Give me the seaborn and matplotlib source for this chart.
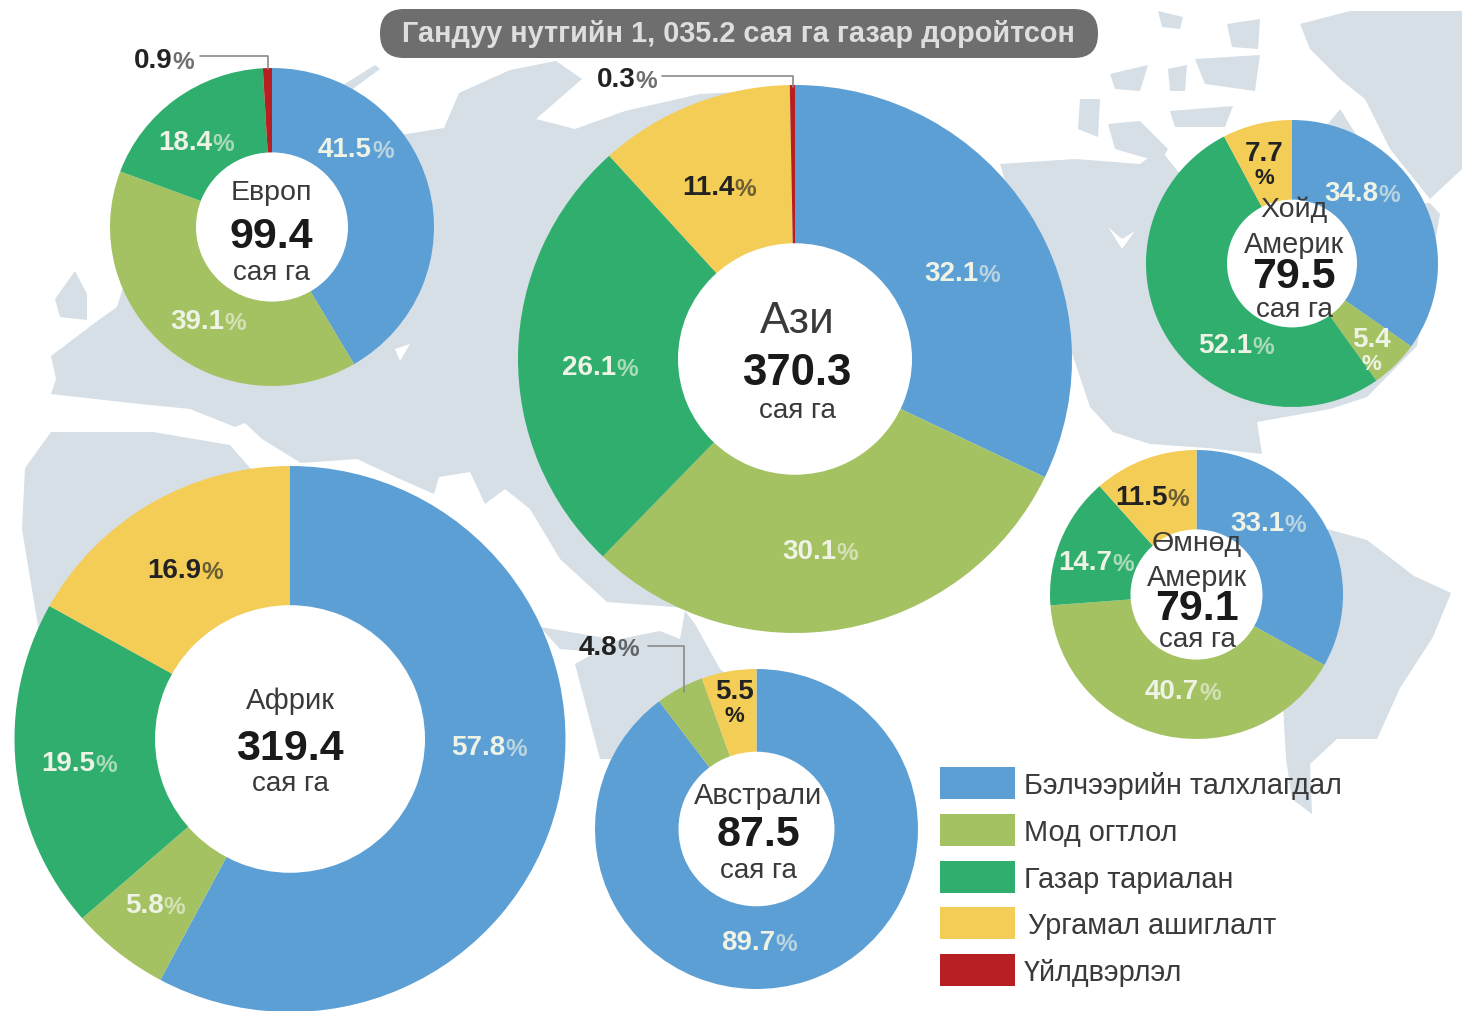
import matplotlib
matplotlib.use("Agg")
import matplotlib.pyplot as plt
from matplotlib.patches import FancyBboxPatch, Polygon, Rectangle
import seaborn as sns

sns.set_theme(style="white")
plt.rcParams["font.family"] = ["Liberation Sans", "DejaVu Sans"]

categories = ["Бэлчээрийн талхлагдал", "Мод огтлол", "Газар тариалан", "Ургамал ашиглалт", "Үйлдвэрлэл"]
title_text = "Гандуу нутгийн 1, 035.2 сая га газар доройтсон"
colors = sns.color_palette(["#5C9FD5", "#A4C262", "#2FAE6E", "#F4CD56", "#B81F22"])

europe = [41.5, 39.1, 18.4, 0.0, 0.9]
asia = [32.1, 30.1, 26.1, 11.4, 0.3]
north_america = [34.8, 5.4, 52.1, 7.7, 0.0]
south_america = [33.1, 40.7, 14.7, 11.5, 0.0]
africa = [57.8, 5.8, 19.5, 16.9, 0.0]
australia = [89.7, 4.8, 0.0, 5.5, 0.0]

W, H = 1466, 1012
MAP = "#D6DEE6"
fig = plt.figure(figsize=(W / 100, H / 100), dpi=100, facecolor="white")

bg = fig.add_axes([0, 0, 1, 1], zorder=0)
bg.set_xlim(0, W); bg.set_ylim(H, 0); bg.axis("off")
land = [
    # Eurasia
    [(413, 134), (444, 129), (459, 94), (510, 71), (556, 62), (582, 80), (536, 120), (575, 130), (625, 112),
     (700, 95), (800, 90), (900, 130), (900, 500), (700, 610), (607, 603), (560, 560), (530, 510), (505, 490),
     (485, 505), (470, 473), (439, 478), (434, 495), (400, 480), (357, 460), (301, 464), (262, 440), (245, 424),
     (235, 428), (190, 410), (140, 405), (51, 395), (56, 380), (51, 357), (100, 320), (117, 308), (135, 250), (300, 150)],
    # UK
    [(55, 300), (75, 272), (87, 295), (87, 321), (60, 318)],
    # Novaya Zemlya
    [(340, 88), (375, 66), (380, 70), (350, 92)],
    # Africa
    [(25, 469), (51, 433), (153, 433), (230, 446), (250, 469), (280, 480), (300, 700), (50, 700), (22, 530)],
    # Islands
    [(540, 628), (600, 638), (622, 655), (560, 650)],
    # Australia
    [(575, 665), (620, 640), (660, 632), (680, 640), (685, 612), (695, 625), (720, 670), (745, 690), (700, 760), (600, 760)],
    # North America
    [(1000, 165), (1075, 160), (1140, 165), (1160, 150), (1180, 175), (1240, 150), (1300, 160), (1340, 110),
     (1400, 205), (1430, 204), (1440, 215), (1417, 347), (1367, 398), (1330, 410), (1257, 423), (1262, 455),
     (1207, 449), (1150, 445), (1113, 433), (1090, 408), (1073, 357), (1040, 300)],
    # Greenland
    [(1300, 25), (1350, 12), (1462, 12), (1462, 170), (1430, 200), (1390, 150), (1365, 100), (1340, 80), (1310, 50)],
    # Arctic islands
    [(1080, 100), (1100, 100), (1098, 138), (1078, 130)],
    [(1108, 125), (1140, 122), (1168, 150), (1160, 163), (1115, 150)],
    [(1170, 112), (1233, 107), (1225, 128), (1175, 128)],
    [(1110, 75), (1148, 66), (1140, 92), (1115, 90)],
    [(1168, 70), (1187, 66), (1185, 92), (1170, 92)],
    [(1195, 60), (1260, 56), (1255, 92), (1205, 85)],
    [(1158, 12), (1183, 18), (1180, 30), (1162, 28)],
    [(1227, 25), (1260, 20), (1258, 50), (1232, 48)],
    # South America
    [(1300, 520), (1327, 530), (1367, 541), (1414, 577), (1451, 594), (1433, 638), (1400, 689), (1377, 740),
     (1337, 740), (1310, 765), (1312, 815), (1292, 800), (1286, 760), (1280, 650)],
]
for poly in land:
    bg.add_patch(Polygon(poly, closed=True, facecolor=MAP, edgecolor="none"))
bg.add_patch(Polygon([(1108, 228), (1122, 240), (1135, 232), (1122, 250)], closed=True, facecolor="white", edgecolor="none"))
bg.add_patch(Polygon([(395, 350), (410, 345), (400, 362)], closed=True, facecolor="white", edgecolor="none"))

def donut(values, cx, cy, Rx, Ry, r):
    ax = fig.add_axes([(cx - Rx) / W, 1 - (cy + Ry) / H, 2 * Rx / W, 2 * Ry / H], zorder=1)
    ax.pie(values, colors=colors, startangle=90, counterclock=False, radius=1,
           wedgeprops={"linewidth": 0})
    ax.pie([1], colors=["white"], radius=r / Rx, wedgeprops={"linewidth": 0})
    ax.set_xlim(-1, 1); ax.set_ylim(-1, 1); ax.set_aspect("auto"); ax.axis("off")

donut(europe, 272, 228, 162, 159, 76)
donut(asia, 795, 360, 277, 274, 117)
donut(north_america, 1292, 264.5, 146, 143.5, 65)
donut(south_america, 1196.5, 595.5, 146.5, 144.5, 66)
donut(africa, 290, 740, 275.5, 273, 135)
donut(australia, 756.5, 830, 161.5, 160, 78)

ov = fig.add_axes([0, 0, 1, 1], zorder=2)
ov.set_xlim(0, W); ov.set_ylim(H, 0); ov.axis("off"); ov.patch.set_alpha(0)

ov.add_patch(FancyBboxPatch((380, 10), 718, 49, boxstyle="round,pad=0,rounding_size=24",
                            facecolor="#6E6E6E", edgecolor="none"))
ov.text(738, 34, title_text, ha="center", va="center", color="#DEDEDE", fontsize=20.8, fontweight="bold")

LIGHT = "#EEF3E6"
DARK = "#222222"

def pct(x, y, val, color=LIGHT, fs=20):
    t = ov.text(x, y + 2, val, ha="left", va="center", color=color, fontsize=fs, fontweight="bold")
    ov.annotate("%", xy=(1, 0), xycoords=t, ha="left", va="bottom", color=color, alpha=0.65,
                fontsize=fs * 0.88, fontweight="bold")

pct(318, 148, "41.5"); pct(170, 320, "39.1"); pct(158, 141, "18.4")
pct(134, 59, "0.9", DARK)
pct(924, 272, "32.1"); pct(782, 550, "30.1"); pct(562, 366, "26.1")
pct(682, 186, "11.4", DARK); pct(597, 78, "0.3", DARK)
pct(1324, 192, "34.8"); pct(1198, 344, "52.1")
pct(1230, 522, "33.1"); pct(1145, 690, "40.7"); pct(1058, 561, "14.7")
pct(1115, 496, "11.5", DARK)
pct(451, 746, "57.8"); pct(125, 904, "5.8"); pct(41, 762, "19.5"); pct(147, 569, "16.9", DARK)
pct(721, 941, "89.7"); pct(579, 646, "4.8", DARK)

for x, y, s, c in [(1264, 154, "7.7", DARK), (1264, 178, "%", DARK),
                   (1371, 340, "5.4", LIGHT), (1371, 364, "%", LIGHT),
                   (734, 692, "5.5", DARK), (734, 717, "%", DARK)]:
    ov.text(x, y, s, ha="center", va="center", color=c, fontweight="bold",
            fontsize=20 if s != "%" else 16)

def center(x, lines):
    for y, s, fs, w in lines:
        ov.text(x, y + 3, s, ha="center", va="center", fontsize=fs, fontweight=w,
                color="#1A1A1A" if w == "bold" else "#3A3A3A")

center(271, [(190, "Европ", 20.5, "normal"), (234, "99.4", 31, "bold"), (270, "сая га", 20, "normal")])
center(797, [(318, "Ази", 32, "normal"), (370, "370.3", 31.5, "bold"), (408, "сая га", 20, "normal")])
center(1294, [(207, "Хойд", 20.5, "normal"), (242, "Америк", 20.8, "normal"), (274, "79.5", 31, "bold"), (307, "сая га", 20, "normal")])
center(1197, [(541, "Өмнөд", 20.5, "normal"), (575, "Америк", 20.8, "normal"), (606, "79.1", 31, "bold"), (637, "сая га", 20, "normal")])
center(290, [(698, "Африк", 21, "normal"), (746, "319.4", 31, "bold"), (781, "сая га", 20, "normal")])
center(758, [(793, "Австрали", 21, "normal"), (832, "87.5", 31, "bold"), (868, "сая га", 20, "normal")])

for xs, ys in [([200, 268, 268], [57, 57, 70]), ([662, 793, 793], [77, 77, 88]), ([648, 684, 684], [647, 647, 693])]:
    ov.plot(xs, ys, color="#8A8A8A", lw=1.2)

swatch_y = [768, 815, 862, 908, 955]
label_x = [1024, 1024, 1024, 1028, 1024]
for y, c, lab, lx in zip(swatch_y, colors, categories, label_x):
    ov.add_patch(Rectangle((940, y), 75, 32, facecolor=c, edgecolor="none"))
    ov.text(lx, y + 18, lab, ha="left", va="center", color="#3A3A3A", fontsize=20.8)

fig.savefig("out.png", dpi=100)
